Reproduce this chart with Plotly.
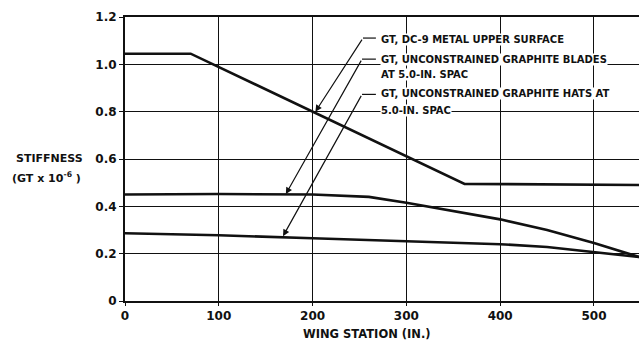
import plotly.graph_objects as go

# Wing station (in.) and stiffness GT x 10^-6 for each structure
station_dc9 = [0, 70, 362, 548]
gt_dc9 = [1.045, 1.045, 0.495, 0.49]

station_blades = [0, 100, 200, 260, 300, 350, 400, 450, 500, 548]
gt_blades = [0.45, 0.452, 0.45, 0.44, 0.415, 0.38, 0.345, 0.30, 0.245, 0.186]

station_hats = [0, 100, 200, 300, 400, 450, 500, 548]
gt_hats = [0.286, 0.278, 0.265, 0.253, 0.24, 0.228, 0.206, 0.186]

x_ticks = [0, 100, 200, 300, 400, 500]
y_ticks = [0, 0.2, 0.4, 0.6, 0.8, 1.0, 1.2]
y_tick_text = ["0", "0.2", "0.4", "0.6", "0.8", "1.0", "1.2"]

# Callout labels: text lines, leader knee, and arrow tip on each curve
callout_lines = [
    [("GT, DC-9 METAL UPPER SURFACE", 1.103)],
    [("GT, UNCONSTRAINED GRAPHITE BLADES", 1.022), ("AT 5.0-IN. SPAC", 0.955)],
    [("GT, UNCONSTRAINED GRAPHITE HATS AT", 0.875), ("5.0-IN. SPAC", 0.807)],
]
label_x = 271.5
knees = [(253.7, 1.111), (252.7, 1.022), (252.7, 0.873)]
knee_end_x = 267.5
tips = [(203, 0.80), (171.5, 0.452), (168.5, 0.274)]

FONT = "DejaVu Sans"
INK = "#111111"

fig = go.Figure()
for xs, ys in [(station_dc9, gt_dc9), (station_blades, gt_blades), (station_hats, gt_hats)]:
    fig.add_trace(go.Scatter(x=xs, y=ys, mode="lines",
                             line=dict(color=INK, width=2.6), showlegend=False,
                             hoverinfo="skip"))

annotations = []
shapes = []
for lines, (kx, ky), (tx, ty) in zip(callout_lines, knees, tips):
    for text, yy in lines:
        annotations.append(dict(x=label_x, y=yy, xref="x", yref="y", text=f"<b>{text}</b>",
                                showarrow=False, xanchor="left", yanchor="middle",
                                font=dict(family=FONT, size=10, color=INK),
                                bgcolor="white", borderpad=0))
    shapes.append(dict(type="line", xref="x", yref="y", x0=kx, y0=ky, x1=knee_end_x, y1=ky,
                       line=dict(color=INK, width=1.2)))
    annotations.append(dict(x=tx, y=ty, xref="x", yref="y", ax=kx, ay=ky, axref="x", ayref="y",
                            text="", showarrow=True, arrowhead=2, arrowsize=1.1,
                            arrowwidth=1.2, arrowcolor=INK, standoff=0))

# free text placed by pixel position, converted to paper coordinates below
free_text = [
    (49, 158, "<b>STIFFNESS</b>", 11),
    (46, 177, "<b>(GT x 10<sup>-6</sup> )</b>", 11),
    (367, 334, "<b>WING STATION (IN.)</b>", 11.5),
]

W, H = 639, 344
ML, MR, MT, MB = 125, 0, 17, 43
pw, ph = W - ML - MR, H - MT - MB
for px, py, text, size in free_text:
    annotations.append(dict(x=(px - ML) / pw, y=(H - MB - py) / ph,
                            xref="paper", yref="paper", text=text, showarrow=False,
                            xanchor="center", yanchor="middle",
                            font=dict(family=FONT, size=size, color=INK)))

fig.update_layout(
    width=W, height=H,
    margin=dict(l=ML, r=MR, t=MT, b=MB, pad=0),
    paper_bgcolor="white", plot_bgcolor="white",
    font=dict(family=FONT, color=INK),
    annotations=annotations, shapes=shapes,
    xaxis=dict(range=[0, 548], tickvals=x_ticks, ticktext=[f"<b>{v}</b>" for v in x_ticks],
               showgrid=True, gridcolor=INK, gridwidth=1.1, zeroline=False,
               showline=True, linecolor=INK, linewidth=2, mirror=True,
               ticks="outside", ticklen=3, tickcolor=INK,
               tickfont=dict(family=FONT, size=12, color=INK)),
    yaxis=dict(range=[0, 1.2], tickvals=y_ticks, ticktext=[f"<b>{t}</b>" for t in y_tick_text],
               showgrid=True, gridcolor=INK, gridwidth=1.1, zeroline=False,
               showline=True, linecolor=INK, linewidth=2,
               ticks="outside", ticklen=4, tickcolor=INK,
               tickfont=dict(family=FONT, size=12, color=INK)),
)

fig.write_html("out.html")
